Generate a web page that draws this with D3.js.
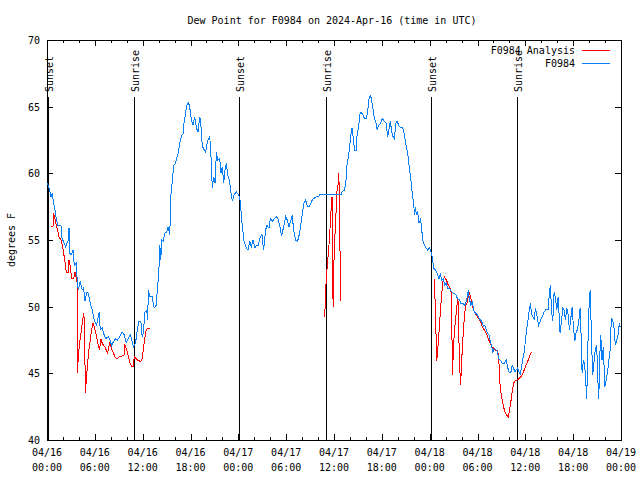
<!DOCTYPE html>
<html>
<head>
<meta charset="utf-8">
<script src="https://cdn.jsdelivr.net/npm/d3@7"></script>
<style>
  html, body { margin: 0; padding: 0; background: #fff; }
  svg text { font-family: "DejaVu Sans Mono", "Liberation Mono", monospace; font-size: 10px; fill: #000; }
</style>
</head>
<body>
<svg id="chart" width="640" height="480"></svg>
<script>
// ---------- DATA ----------
const titleText = "Dew Point for F0984 on 2024-Apr-16 (time in UTC)";
const yLabel = "degrees F";
const seriesNames = ["F0984 Analysis", "F0984"];
const yTicks = [40, 45, 50, 55, 60, 65, 70];
const xMajorHours = [0, 6, 12, 18, 24, 30, 36, 42, 48, 54, 60, 66, 72];
const startTime = Date.UTC(2024, 3, 16, 0, 0);
const sunsetHours = [0.08, 24.08, 48.13];
const sunriseHours = [10.94, 34.97, 58.9];

// F0984 observations: [hours since 04/16 00:00 UTC, dew point F]
const f0984 = [
[0.08,59.25],[0.33,58.75],[0.5,58.25],[0.67,58.5],[0.79,57.9],[1.0,57.25],[1.17,56.6],[1.34,56.1],[1.75,56.1],[1.84,55.25],
[2.05,54.9],[2.34,54.5],[2.67,55.0],[2.76,55.9],[2.84,54.0],[3.09,53.9],[3.26,54.25],[3.42,53.1],[3.67,53.25],[3.76,52.25],
[3.92,51.25],[4.17,51.9],[4.42,51.25],[4.59,51.4],[4.76,50.4],[5.01,51.1],[5.18,51.0],[5.43,50.25],[5.68,49.75],[5.93,49.0],
[6.22,48.6],[6.43,49.25],[6.55,49.6],[6.68,48.25],[6.93,48.4],[7.1,48.0],[7.35,47.6],[7.68,47.75],[7.89,47.5],[8.1,47.1],
[8.35,47.4],[8.6,47.6],[8.85,47.5],[9.14,47.75],[9.43,48.1],[9.68,47.9],[9.93,47.3],[10.19,47.6],[10.44,47.9],[10.69,47.4],
[10.85,47.0],[11.1,47.25],[11.27,48.0],[11.52,48.9],[11.77,48.9],[11.94,47.75],[12.1,48.1],[12.27,49.6],[12.52,49.75],[12.61,49.0],
[12.73,51.25],[12.9,50.75],[13.19,50.75],[13.44,49.9],[13.69,50.1],[13.86,51.4],[14.03,52.6],[14.15,54.6],[14.28,53.5],[14.36,55.0],
[14.57,54.9],[14.78,55.5],[15.03,55.6],[15.19,56.0],[15.4,55.4],[15.53,58.25],[15.74,59.6],[15.9,60.6],[16.11,60.75],[16.24,61.1],
[16.45,61.5],[16.61,62.1],[16.78,62.6],[16.95,62.9],[17.11,63.0],[17.2,63.9],[17.36,64.4],[17.53,65.1],[17.7,65.3],[17.87,65.1],
[18.12,64.0],[18.32,63.6],[18.53,64.25],[18.74,63.4],[18.95,63.1],[19.16,64.25],[19.28,63.9],[19.41,62.5],[19.58,61.9],[19.91,61.6],
[20.12,62.4],[20.41,62.75],[20.54,61.75],[20.66,59.9],[20.74,58.9],[20.91,59.75],[21.08,59.25],[21.25,61.6],[21.41,61.0],[21.66,61.1],
[21.83,60.0],[21.99,60.5],[22.16,59.25],[22.33,60.25],[22.5,60.75],[22.66,59.9],[22.91,59.4],[23.08,58.5],[23.25,57.9],[23.46,58.4],
[23.75,58.6],[24.0,58.4],[24.17,58.25],[24.33,57.25],[24.45,56.3],[24.6,55.5],[24.71,54.9],[25.0,54.4],[25.21,54.25],[25.42,54.9],
[25.63,54.5],[25.84,55.0],[26.09,54.4],[26.25,54.6],[26.51,54.6],[26.76,55.25],[26.96,55.4],[27.17,54.25],[27.42,55.75],[27.59,56.1],
[27.84,55.9],[28.01,56.6],[28.26,56.4],[28.51,56.6],[28.76,56.75],[28.97,56.6],[29.18,56.1],[29.43,55.3],[29.68,56.0],[29.93,56.75],
[30.14,56.5],[30.35,56.0],[30.6,56.5],[30.76,56.9],[30.93,55.75],[31.18,55.0],[31.43,54.9],[31.68,55.5],[31.85,56.25],[32.02,56.9],
[32.22,57.75],[32.43,58.0],[32.68,57.5],[32.93,57.5],[33.18,57.9],[33.43,58.1],[33.77,58.25],[34.1,58.25],[34.27,58.45],[36.9,58.45],
[36.98,58.6],[37.32,58.75],[37.48,59.25],[37.57,60.1],[37.65,60.75],[37.82,61.25],[37.98,62.1],[38.15,63.0],[38.27,63.4],[38.44,62.5],
[38.57,61.75],[38.78,61.75],[38.9,62.9],[39.07,63.4],[39.24,64.4],[39.4,64.6],[39.61,64.4],[39.82,64.1],[40.07,64.1],[40.24,64.75],
[40.36,65.5],[40.57,65.9],[40.74,65.4],[40.91,64.75],[41.07,64.1],[41.24,63.9],[41.41,63.25],[41.57,63.6],[41.82,63.75],[42.07,64.1],
[42.32,63.9],[42.53,63.75],[42.74,62.75],[42.91,63.4],[43.07,63.9],[43.24,63.1],[43.41,62.75],[43.58,62.6],[43.74,63.75],[43.91,63.9],
[44.2,63.5],[44.62,63.4],[44.83,62.9],[45.04,62.1],[45.25,61.5],[45.45,60.4],[45.66,59.4],[45.83,58.4],[46.0,57.75],[46.08,56.9],
[46.21,57.5],[46.33,56.9],[46.5,57.1],[46.66,56.25],[46.83,56.5],[47.0,56.0],[47.08,55.1],[47.25,54.75],[47.54,54.4],[47.75,54.25],
[48.0,54.4],[48.17,54.1],[48.33,53.75],[48.5,52.9],[48.75,52.75],[49.0,52.4],[49.17,52.1],[49.34,52.5],[49.5,52.0],[49.75,52.1],
[49.84,51.6],[50.09,51.75],[50.25,51.4],[50.51,51.4],[50.76,51.1],[51.01,51.0],[51.26,50.9],[51.51,50.6],[51.76,50.5],[51.92,50.25],
[52.17,50.25],[52.42,50.1],[52.68,50.6],[52.84,51.25],[52.97,50.6],[53.18,50.1],[53.34,50.4],[53.51,49.75],[53.76,49.5],[54.0,49.4],
[54.22,49.1],[54.51,48.9],[54.76,48.5],[54.93,48.6],[55.1,48.25],[55.26,48.0],[55.43,47.9],[55.6,47.4],[55.76,47.1],[55.93,46.6],
[56.1,46.9],[56.35,46.75],[56.52,46.6],[56.64,46.1],[56.85,46.0],[57.1,45.75],[57.35,45.75],[57.6,46.0],[57.77,45.5],[57.94,45.1],
[58.19,45.1],[58.35,45.6],[58.52,45.4],[58.69,45.1],[58.85,45.25],[59.02,45.4],[59.19,45.1],[59.35,44.9],[59.52,45.4],[59.69,46.1],
[59.86,46.6],[60.02,47.5],[60.19,48.4],[60.36,49.1],[60.52,49.9],[60.65,50.25],[60.77,49.5],[60.94,49.25],[61.11,49.1],[61.27,49.9],
[61.44,49.4],[61.65,48.6],[61.86,48.9],[62.11,49.25],[62.36,49.6],[62.61,49.8],[62.86,49.8],[63.03,51.1],[63.15,51.6],[63.28,49.75],
[63.44,48.9],[63.61,51.1],[63.78,50.6],[63.95,49.75],[64.11,50.75],[64.24,49.4],[64.36,48.0],[64.53,48.9],[64.7,49.9],[64.86,49.75],
[65.03,49.0],[65.2,49.9],[65.37,49.4],[65.53,48.25],[65.7,49.1],[65.87,50.0],[66.03,48.5],[66.2,47.4],[66.37,48.1],[66.53,48.25],
[66.7,48.9],[66.87,49.9],[66.95,48.75],[67.12,45.0],[67.29,46.0],[67.45,45.6],[67.62,44.0],[67.7,43.1],[67.87,47.6],[68.04,50.9],
[68.16,51.25],[68.29,47.6],[68.45,44.9],[68.62,45.9],[68.79,46.9],[68.95,47.1],[69.12,44.25],[69.21,43.1],[69.37,46.75],[69.46,47.9],
[69.62,46.0],[69.79,47.0],[69.96,44.0],[70.12,44.4],[70.29,45.0],[70.46,45.9],[70.62,46.6],[70.79,49.1],[70.96,49.0],[71.13,48.4],
[71.29,47.1],[71.46,47.5],[71.63,47.9],[71.79,48.75],[71.88,48.5]
];

// F0984 Analysis: [hours, dew point F]; null marks a gap in the analysis
const analysis = [
[0.5,56.0],[0.75,56.0],[0.84,57.0],[1.0,56.6],[1.17,56.1],[1.34,55.75],[1.5,55.25],[1.75,55.0],[1.92,54.6],[2.09,54.0],
[2.25,53.4],[2.42,52.6],[2.67,52.6],[2.76,53.5],[2.92,53.0],[3.09,52.1],[3.34,52.1],[3.51,52.6],[3.67,52.1],[3.8,51.75],
[3.82,45.0],[3.92,46.25],[4.09,47.25],[4.26,48.0],[4.42,48.75],[4.59,49.5],[4.72,48.75],[4.8,43.5],[4.93,44.5],[5.09,45.75],
[5.26,46.75],[5.43,47.5],[5.59,48.25],[5.76,48.75],[5.93,48.5],[6.09,48.1],[6.26,47.6],[6.43,47.1],[6.6,46.75],[6.76,47.6],
[6.93,47.25],[7.1,47.1],[7.26,47.0],[7.43,46.75],[7.6,46.5],[7.85,47.25],[8.01,47.0],[8.26,46.6],[8.52,46.25],[8.77,46.1],
[9.1,46.25],[9.43,46.3],[9.68,46.4],[9.77,47.1],[9.93,46.9],[10.1,46.5],[10.27,46.1],[10.44,45.75],[10.6,45.5],[10.85,45.5],
[10.94,46.25],[11.19,46.1],[11.44,45.95],[11.77,45.9],[11.94,46.1],[12.1,46.9],[12.27,47.6],[12.44,48.25],[12.61,48.4],[12.9,48.4],
null,
[34.8,49.2],[34.85,49.4],[34.95,51.25],[35.08,52.5],[35.25,53.75],[35.42,55.0],[35.55,56.4],[35.67,57.6],[35.75,58.25],[35.84,51.0],
[35.92,50.0],[36.02,54.25],[36.15,55.75],[36.27,57.25],[36.4,59.0],[36.5,59.1],[36.58,60.0],[36.68,58.75],[36.75,54.5],[36.82,50.4],
null,
[48.58,52.1],[48.67,50.6],[48.79,48.1],[48.88,45.9],[49.0,46.6],[49.17,48.1],[49.34,49.6],[49.5,50.9],[49.67,51.9],[49.84,52.25],
[50.0,52.1],[50.17,51.9],[50.34,51.6],[50.51,51.5],[50.67,51.1],[50.76,50.6],[50.84,44.9],[50.96,46.4],[51.09,48.1],[51.26,49.1],
[51.42,50.1],[51.55,50.6],[51.63,48.4],[51.76,45.6],[51.88,44.1],[52.01,45.9],[52.17,47.6],[52.34,49.1],[52.51,50.1],[52.68,50.25],
[52.84,50.75],[53.01,51.0],[53.18,50.6],[53.34,50.1],[53.51,49.75],[53.76,49.4],[54.01,49.25],[54.35,48.9],[54.6,48.5],[54.85,48.25],
[55.1,48.0],[55.35,47.6],[55.6,47.25],[55.76,47.0],[56.01,46.9],[56.27,46.75],[56.52,46.75],[56.68,46.0],[56.77,44.5],[56.93,43.6],
[57.1,43.0],[57.27,42.5],[57.43,42.1],[57.6,41.9],[57.85,41.75],[58.02,42.25],[58.19,42.9],[58.35,43.6],[58.52,44.25],[58.69,44.4],
[58.94,44.5],[59.19,44.6],[59.44,44.75],[59.69,45.0],[59.86,45.25],[60.02,45.5],[60.19,45.75],[60.36,46.0],[60.52,46.25],[60.69,46.5],
[60.81,46.6]
];

// ---------- DRAWING ----------
const colors = { analysis: "#ff0000", station: "#0a7ff5" };
const hourMs = 3600 * 1000;
const toDate = h => new Date(startTime + h * hourMs);

const svg = d3.select("#chart");
const L = 47, R = 621, T = 40, B = 440;

const x = d3.scaleUtc().domain([toDate(0), toDate(72)]).range([L, R]);
const y = d3.scaleLinear().domain([40, 70]).range([B, T]);

// frame
svg.append("rect").attr("x", L + 0.5).attr("y", T + 0.5)
  .attr("width", R - L).attr("height", B - T)
  .attr("fill", "none").attr("stroke", "#000").attr("stroke-width", 1)
  .attr("shape-rendering", "crispEdges");

// x axis ticks (bottom and top), major every 6 h, minor every 2 h
const minorHours = d3.range(0, 73, 2).filter(h => h % 6 !== 0);
const tickG = svg.append("g").attr("stroke", "#000").attr("shape-rendering", "crispEdges");
xMajorHours.forEach(h => {
  const px = Math.round(x(toDate(h))) + 0.5;
  tickG.append("line").attr("x1", px).attr("x2", px).attr("y1", B).attr("y2", B - 6);
  tickG.append("line").attr("x1", px).attr("x2", px).attr("y1", T).attr("y2", T + 6);
});
minorHours.forEach(h => {
  const px = Math.round(x(toDate(h))) + 0.5;
  tickG.append("line").attr("x1", px).attr("x2", px).attr("y1", B).attr("y2", B - 3);
  tickG.append("line").attr("x1", px).attr("x2", px).attr("y1", T).attr("y2", T + 3);
});
// y ticks left and right
yTicks.forEach(v => {
  const py = Math.round(y(v)) + 0.5;
  tickG.append("line").attr("x1", L).attr("x2", L + 6).attr("y1", py).attr("y2", py);
  tickG.append("line").attr("x1", R).attr("x2", R - 6).attr("y1", py).attr("y2", py);
});

// x tick labels (two lines)
const fmtDay = d3.utcFormat("%m/%d"), fmtTime = d3.utcFormat("%H:%M");
const xLab = svg.append("g");
xMajorHours.forEach(h => {
  const d = toDate(h);
  const t = xLab.append("text").attr("text-anchor", "middle")
    .attr("x", x(d)).attr("y", 456);
  t.append("tspan").attr("x", x(d)).attr("y", 456).text(fmtDay(d));
  t.append("tspan").attr("x", x(d)).attr("y", 471).text(fmtTime(d));
});

// y tick labels
svg.append("g").selectAll("text").data(yTicks).join("text")
  .attr("x", 40).attr("y", d => y(d) + 4).attr("text-anchor", "end").text(d => d);

// y label
svg.append("text").attr("transform", "translate(15,240) rotate(-90)")
  .attr("text-anchor", "middle").text(yLabel);

// title
svg.append("text").attr("x", 332).attr("y", 24).attr("text-anchor", "middle").text(titleText);

// sunrise / sunset lines
const sunEvents = sunsetHours.map(h => ({ h, label: "Sunset" }))
  .concat(sunriseHours.map(h => ({ h, label: "Sunrise" })));
sunEvents.forEach(e => {
  const px = Math.round(x(toDate(e.h))) + 0.5;
  svg.append("line").attr("x1", px).attr("x2", px).attr("y1", 97).attr("y2", B)
    .attr("stroke", "#000").attr("stroke-width", 1).attr("shape-rendering", "crispEdges");
  svg.append("text").attr("transform", `translate(${px + 4},92) rotate(-90)`)
    .attr("text-anchor", "start").text(e.label);
});

// series lines
const line = d3.line()
  .defined(d => d !== null)
  .x(d => x(toDate(d[0])))
  .y(d => y(d[1]));

svg.append("path").datum(analysis)
  .attr("fill", "none").attr("stroke", colors.analysis).attr("stroke-width", 1)
  .attr("shape-rendering", "crispEdges")
  .attr("d", line);
svg.append("path").datum(f0984)
  .attr("fill", "none").attr("stroke", colors.station).attr("stroke-width", 1)
  .attr("shape-rendering", "crispEdges")
  .attr("d", line);

// legend
const legend = svg.append("g");
[[seriesNames[0], colors.analysis, 50], [seriesNames[1], colors.station, 63]].forEach(([name, c, ly]) => {
  legend.append("text").attr("x", 575).attr("y", ly + 4).attr("text-anchor", "end").text(name);
  legend.append("line").attr("x1", 582).attr("x2", 610).attr("y1", ly + 0.5).attr("y2", ly + 0.5)
    .attr("stroke", c).attr("stroke-width", 1).attr("shape-rendering", "crispEdges");
});
</script>
</body>
</html>
